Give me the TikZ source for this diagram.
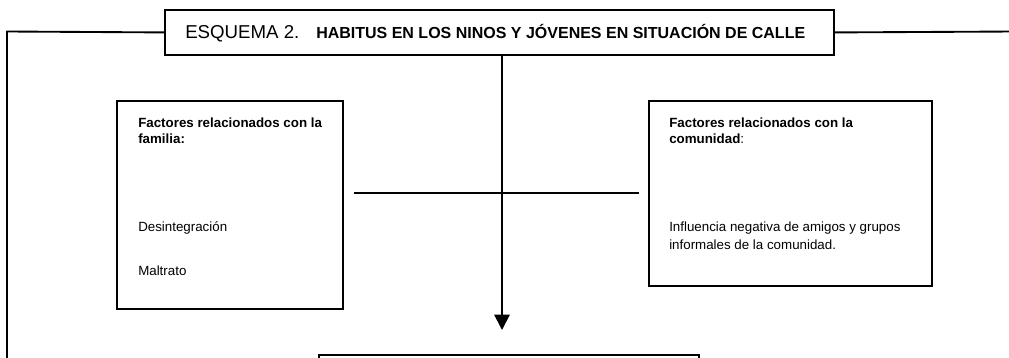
\documentclass[tikz,border=0pt]{standalone}
\usepackage{fontspec}
\setmainfont{Liberation Sans}
\usetikzlibrary{arrows.meta}
\begin{document}
\begin{tikzpicture}[x=0.75pt,y=-0.75pt,
  box/.style={draw, line width=1.4pt, rectangle, inner sep=0pt, anchor=north west},
  conn/.style={line width=1.4pt},
  txt/.style={anchor=base west, inner sep=0pt, font=\fontsize{10}{12}\selectfont},
  arrowtip/.style={-{Triangle[width=11.5pt,length=11.5pt]}}]
\useasboundingbox (0,0) rectangle (1009,357);
\clip (0,0) rectangle (1009,357);
% boxes
\node[box, minimum width=669*0.75pt, minimum height=45*0.75pt] (title) at (164,9) {};
\node[box, minimum width=226*0.75pt, minimum height=208*0.75pt] (famB) at (116,100) {};
\node[box, minimum width=283*0.75pt, minimum height=185*0.75pt] (comB) at (648,100) {};
\node[box, minimum width=380*0.75pt, minimum height=60*0.75pt] (resB) at (318,354) {};
% title text
\node[anchor=base west, inner sep=0pt, font=\fontsize{14}{16}\selectfont] (t1) at (185,38) {ESQUEMA 2.};
\node[anchor=base west, inner sep=0pt, font=\bfseries\fontsize{12}{14}\selectfont] (t2) at (316,38) {HABITUS EN LOS NINOS Y JÓVENES EN SITUACIÓN DE CALLE};
% family box text
\node[txt] (f1) at (138,127) {\bfseries Factores relacionados con la};
\node[txt] (f2) at (138,143) {\bfseries familia:};
\node[txt] (f3) at (138,231) {Desintegración};
\node[txt] (f4) at (138,275) {Maltrato};
% community box text
\node[txt] (c1) at (669,127) {\bfseries Factores relacionados con la};
\node[txt] (c2) at (669,143) {\textbf{comunidad}:};
\node[txt] (c3) at (669,231) {Influencia negativa de amigos y grupos};
\node[txt] (c4) at (669,249) {informales de la comunidad.};
% connectors
\coordinate (lc) at (7,31.5);
\coordinate (lend) at (7,370);
\coordinate (rend) at (1015,31.5);
\coordinate (atip) at (502,330);
\coordinate (h1) at (354,193);
\coordinate (h2) at (639,193);
\draw[conn] (title.west) -- (lc) -- (lend);
\draw[conn] (title.east) -- (rend);
\draw[conn, arrowtip] (title.south -| atip) -- (atip);
\draw[conn] (h1) -- (h2);
\end{tikzpicture}
\end{document}
